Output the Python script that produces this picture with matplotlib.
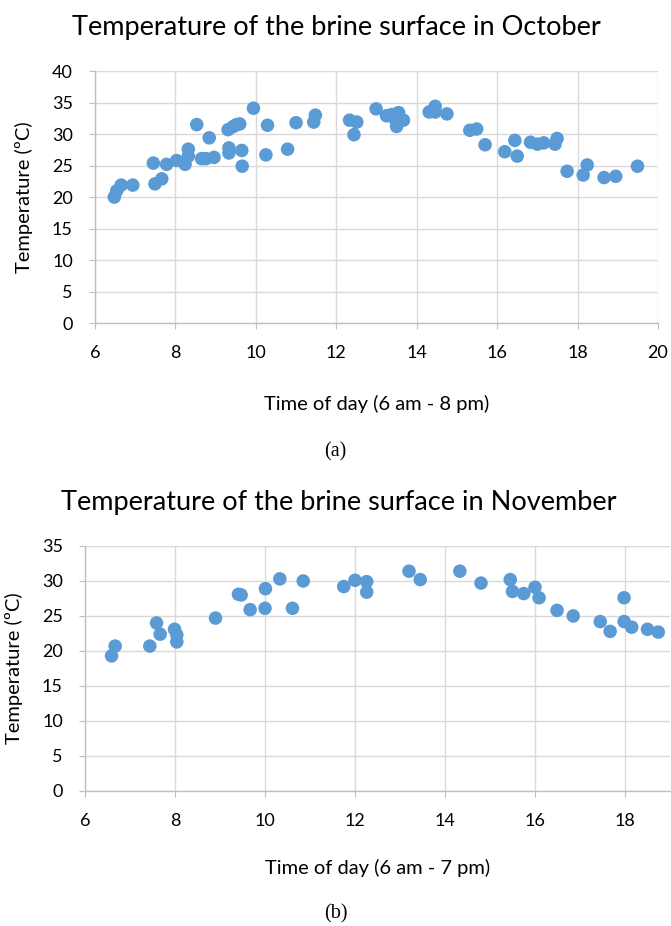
import matplotlib
matplotlib.use('Agg')
import matplotlib.pyplot as plt

# October readings (time of day in hours, temperature in ºC)
oct_time = [6.48, 6.54, 6.65, 6.94, 7.45, 7.49, 7.66, 7.78, 8.03, 8.24,
            8.32, 8.32, 8.53, 8.65, 8.76, 8.84, 8.96, 9.31, 9.33, 9.33,
            9.44, 9.52, 9.60, 9.65, 9.66, 9.94, 10.25, 10.29, 10.79, 11.00,
            11.44, 11.48, 12.33, 12.51, 12.44, 12.99, 13.25, 13.38, 13.55, 13.50,
            13.67, 13.46, 14.31, 14.46, 14.46, 14.75, 15.32, 15.49, 15.70, 16.19,
            16.44, 16.50, 16.83, 17.00, 17.16, 17.44, 17.49, 17.74, 18.14, 18.24,
            18.66, 18.95, 19.49]
oct_temp = [20.0, 21.0, 21.9, 21.9, 25.4, 22.1, 22.9, 25.2, 25.8, 25.2,
            27.6, 26.5, 31.5, 26.1, 26.1, 29.4, 26.3, 30.7, 27.8, 27.0,
            31.2, 31.5, 31.6, 27.4, 24.9, 34.1, 26.7, 31.4, 27.6, 31.8,
            31.9, 33.0, 32.2, 31.9, 29.9, 34.0, 32.9, 33.1, 33.4, 31.2,
            32.2, 32.4, 33.5, 34.4, 33.5, 33.2, 30.6, 30.8, 28.3, 27.2,
            29.0, 26.5, 28.7, 28.4, 28.6, 28.4, 29.3, 24.1, 23.5, 25.1,
            23.1, 23.3, 24.9]

# November readings
nov_time = [6.59, 6.67, 7.44, 7.59, 7.67, 7.99, 8.04, 8.04, 8.90, 9.41,
            9.47, 9.67, 10.01, 10.00, 10.33, 10.61, 10.85, 11.75, 12.00, 12.26,
            12.26, 13.20, 13.45, 14.33, 14.80, 15.45, 15.50, 15.75, 16.00, 16.09,
            16.49, 16.85, 17.45, 17.67, 17.98, 17.98, 18.15, 18.50, 18.74]
nov_temp = [19.3, 20.7, 20.7, 24.0, 22.4, 23.1, 22.3, 21.3, 24.7, 28.1,
            28.0, 25.9, 28.9, 26.1, 30.3, 26.1, 30.0, 29.2, 30.1, 29.9,
            28.4, 31.4, 30.2, 31.4, 29.7, 30.2, 28.5, 28.2, 29.1, 27.6,
            25.8, 25.0, 24.2, 22.8, 27.6, 24.2, 23.4, 23.1, 22.7]

blue = '#5B9BD5'
grid_col = '#D9D9D9'
axis_col = '#BFBFBF'
sans = 'Lato'
serif = 'Liberation Serif'

plt.rcParams['font.family'] = [sans, 'DejaVu Sans']

TITLE_FS = 19.5
LABEL_FS = 14.5
TICK_FS = 13
CAPTION_FS = 14.5


def styleAxes(ax, xmax, ymax):
    ax.set_xlim(6, xmax)
    ax.set_ylim(0, ymax)
    ax.set_xticks(range(6, xmax + 1, 2))
    ax.set_yticks(range(0, ymax + 1, 5))
    ax.grid(True, color=grid_col, linewidth=1.0)
    ax.set_axisbelow(True)
    for side in ['top', 'right']:
        ax.spines[side].set_visible(False)
    for side in ['left', 'bottom']:
        ax.spines[side].set_color(axis_col)
        ax.spines[side].set_linewidth(1.0)
    ax.tick_params(axis='x', length=4, color=axis_col, pad=12, labelsize=TICK_FS)
    ax.tick_params(axis='y', length=4, color=axis_col, pad=12, labelsize=TICK_FS)


fig = plt.figure(figsize=(6.71, 9.26), dpi=100)

# (a) October
ax1 = fig.add_axes([0.1416, 0.651, 0.839, 0.2723])
ax1.scatter(oct_time, oct_temp, s=95, color=blue, edgecolors='none', zorder=3, clip_on=False)
styleAxes(ax1, 20, 40)
fig.text(0.501, 0.970, 'Temperature of the brine surface in October', ha='center', va='center',
         fontsize=TITLE_FS)
fig.text(0.561, 0.5637, 'Time of day (6 am - 8 pm)', ha='center', va='center', fontsize=LABEL_FS)
fig.text(0.036, 0.787, 'Temperature (ºC)', rotation=90, ha='center', va='center', fontsize=LABEL_FS)
fig.text(0.5, 0.512, '(a)', ha='center', va='center', fontsize=CAPTION_FS, family=serif)

# (b) November
ax2 = fig.add_axes([0.1267, 0.1458, 0.8718, 0.2646])
ax2.scatter(nov_time, nov_temp, s=95, color=blue, edgecolors='none', zorder=3, clip_on=False)
styleAxes(ax2, 19, 35)
ax2.set_xticks(range(6, 19, 2))
fig.text(0.505, 0.457, 'Temperature of the brine surface in November', ha='center', va='center',
         fontsize=TITLE_FS)
fig.text(0.563, 0.0625, 'Time of day (6 am - 7 pm)', ha='center', va='center', fontsize=LABEL_FS)
fig.text(0.021, 0.2786, 'Temperature (ºC)', rotation=90, ha='center', va='center', fontsize=LABEL_FS)
fig.text(0.5, 0.013, '(b)', ha='center', va='center', fontsize=CAPTION_FS, family=serif)

fig.savefig('out.png', dpi=100)
